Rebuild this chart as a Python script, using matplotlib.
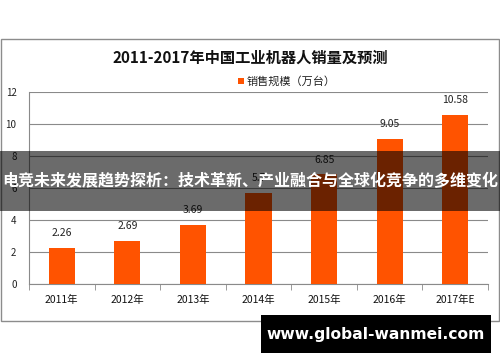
import matplotlib
matplotlib.use("Agg")
import matplotlib.pyplot as plt
from matplotlib.patches import Rectangle

plt.rcParams['font.family'] = ['Noto Sans CJK SC', 'DejaVu Sans']

categories = ["2011年", "2012年", "2013年", "2014年", "2015年", "2016年", "2017年E"]
sales = [2.26, 2.69, 3.69, 5.7, 6.85, 9.05, 10.58]
value_labels = ["2.26", "2.69", "3.69", "5.7", "6.85", "9.05", "10.58"]
yticks = [0, 2, 4, 6, 8, 10, 12]
title = "2011-2017年中国工业机器人销量及预测"
legend_label = "销售规模（万台）"
banner_text = "电竞未来发展趋势探析：技术革新、产业融合与全球化竞争的多维变化"
site_text = "www.global-wanmei.com"

W, H = 500, 362
fig = plt.figure(figsize=(W / 100, H / 100), dpi=100)
fig.patch.set_facecolor("white")

def fx(px):
    return px / W

def fy(py):
    return 1 - py / H

# outer chart frame
fig.patches.append(Rectangle((fx(0.5), fy(321)), fx(498.5), (321 - 39) / H,
                             transform=fig.transFigure, fill=False,
                             edgecolor="#8c8c8c", linewidth=1.0, zorder=0))

ax = fig.add_axes([fx(29), fy(284), fx(459), (284 - 92) / H])
bar_color = "#FF5300"
x = list(range(len(categories)))
bars = ax.bar(x, sales, width=0.4, color=bar_color, zorder=3)
ax.set_xlim(-0.5, len(categories) - 0.5)
ax.set_ylim(0, 12)
ax.set_yticks(yticks)
ax.set_yticklabels([str(v) for v in yticks], fontsize=7, color="#222222")
ax.yaxis.grid(True, color="#8a8a8a", linewidth=0.8, zorder=0)
ax.set_xticks(x)
ax.set_xticklabels(categories, fontsize=7.5, color="#111111")
ax.tick_params(axis="x", length=0, pad=8)
ax.tick_params(axis="y", length=0, pad=9)
# minor ticks between categories on x axis
ax.set_xticks([i - 0.5 for i in range(len(categories) + 1)], minor=True)
ax.tick_params(axis="x", which="minor", length=4, color="#8a8a8a")
for s in ["top", "right"]:
    ax.spines[s].set_visible(False)
ax.spines["left"].set_color("#8a8a8a")
ax.spines["bottom"].set_color("#8a8a8a")
ax.set_facecolor("none")

for xi, v, lab in zip(x, sales, value_labels):
    ax.annotate(lab, (xi, v), xytext=(0, 7), textcoords="offset points",
                ha="center", va="bottom", fontsize=7.5, color="#222222")

fig.text(0.5, fy(58), title, ha="center", va="center", fontsize=11,
         fontweight="bold", color="#111111")
# legend
fig.patches.append(Rectangle((fx(238), fy(84)), fx(6), 6 / H, transform=fig.transFigure,
                             facecolor=bar_color, edgecolor="none"))
fig.text(fx(247), fy(81), legend_label, ha="left", va="center", fontsize=8, color="#222222")

# overlay banner
fig.patches.append(Rectangle((0, fy(211)), 1, (211 - 151) / H, transform=fig.transFigure,
                             facecolor="black", edgecolor="none", alpha=0.58, zorder=10))
fig.text(0.5, fy(181), banner_text, ha="center", va="center", fontsize=11.5,
         fontweight="bold", color="white", zorder=11)

# site banner
fig.patches.append(Rectangle((fx(261), fy(353)), fx(230), (353 - 315) / H,
                             transform=fig.transFigure, facecolor="black",
                             edgecolor="none", zorder=10))
fig.text(fx(376), fy(334), site_text, ha="center", va="center", fontsize=11.2,
         fontweight="bold", color="white", zorder=11, family="DejaVu Sans")

fig.savefig("out.png", dpi=100)
